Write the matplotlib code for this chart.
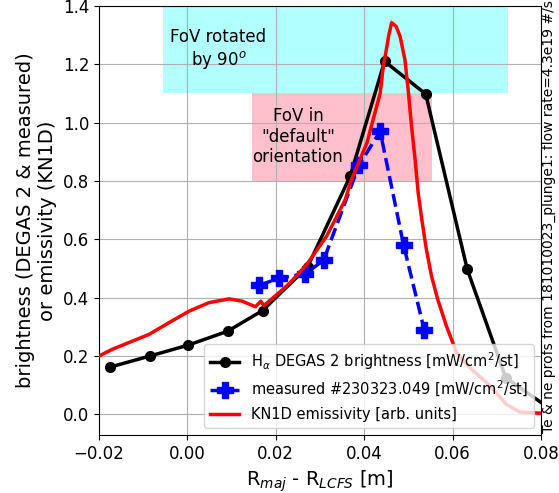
import matplotlib
matplotlib.use("Agg")
import matplotlib.pyplot as plt
from matplotlib.patches import Rectangle

# DEGAS 2 brightness
degas_x = [-0.0175, -0.0085, 0.0001, 0.0091, 0.0170, 0.0272, 0.0368, 0.0446, 0.0539, 0.0633, 0.0720, 0.0810]
degas_y = [0.162, 0.200, 0.237, 0.285, 0.356, 0.506, 0.816, 1.210, 1.098, 0.497, 0.126, 0.030]

# measured
meas_x = [0.0162, 0.0207, 0.0266, 0.0308, 0.0388, 0.0436, 0.0489, 0.0536]
meas_y = [0.442, 0.467, 0.482, 0.528, 0.854, 0.970, 0.580, 0.288]

# KN1D emissivity
kn_x = [-0.020, -0.0170, -0.0087, -0.0042, 0.0004, 0.0049, 0.0094, 0.0124, 0.0154, 0.0166, 0.0173,
        0.0207, 0.0232, 0.0270, 0.0315, 0.0357, 0.0370, 0.0406, 0.0420, 0.0436, 0.0443, 0.0450,
        0.0455, 0.0462, 0.0472, 0.0481, 0.0492, 0.0500, 0.0507, 0.0515, 0.0522, 0.0530, 0.0540,
        0.0552, 0.0566, 0.0586, 0.0609, 0.0639, 0.0685, 0.0722, 0.0752, 0.0800]
kn_y = [0.200, 0.223, 0.274, 0.314, 0.354, 0.383, 0.396, 0.388, 0.369, 0.388, 0.373,
        0.417, 0.451, 0.514, 0.611, 0.736, 0.800, 0.930, 1.010, 1.100, 1.193, 1.250,
        1.296, 1.343, 1.330, 1.296, 1.216, 1.102, 0.987, 0.873, 0.759, 0.670, 0.570,
        0.475, 0.395, 0.302, 0.211, 0.160, 0.097, 0.034, 0.008, 0.004]

fig = plt.figure(figsize=(5.59, 4.93), dpi=100)
ax = fig.add_axes([0.177, 0.118, 0.791, 0.870])

ax.add_patch(Rectangle((-0.0055, 1.1), 0.078, 0.3, facecolor='cyan', alpha=0.3, edgecolor='none', zorder=1))
ax.add_patch(Rectangle((0.0147, 0.8), 0.0407, 0.3, facecolor='pink', edgecolor='none', zorder=1))

ax.plot(degas_x, degas_y, '-o', color='black', lw=2.5, ms=7, zorder=3,
        label=r'H$_\alpha$ DEGAS 2 brightness [mW/cm$^2$/st]')
ax.plot(meas_x, meas_y, '--P', color='blue', lw=2.5, ms=11, zorder=4,
        label=r'measured #230323.049 [mW/cm$^2$/st]')
ax.plot(kn_x, kn_y, '-', color='red', lw=2.5, zorder=5,
        label='KN1D emissivity [arb. units]')

ax.text(0.007, 1.25, 'FoV rotated\nby 90$^o$', ha='center', va='center', fontsize=12)
ax.text(0.025, 0.952, 'FoV in\n"default"\norientation', ha='center', va='center', fontsize=12)

ax.set_xlim(-0.02, 0.08)
ax.set_ylim(-0.07, 1.4)
ax.grid(True, color='#b0b0b0')
ax.tick_params(labelsize=12)
ax.set_xlabel(r'R$_{maj}$ - R$_{LCFS}$ [m]', fontsize=14)
ax.set_ylabel('brightness (DEGAS 2 & measured)\nor emissivity (KN1D)', fontsize=14)
ax.legend(loc='lower right', fontsize=10.5)

fig.text(0.982, 0.122, 'Te & ne profs from 181010023_plunge1: flow rate=4.3e19 #/s',
         rotation=90, ha='center', va='bottom', fontsize=10)

fig.savefig('out.png', dpi=100)
